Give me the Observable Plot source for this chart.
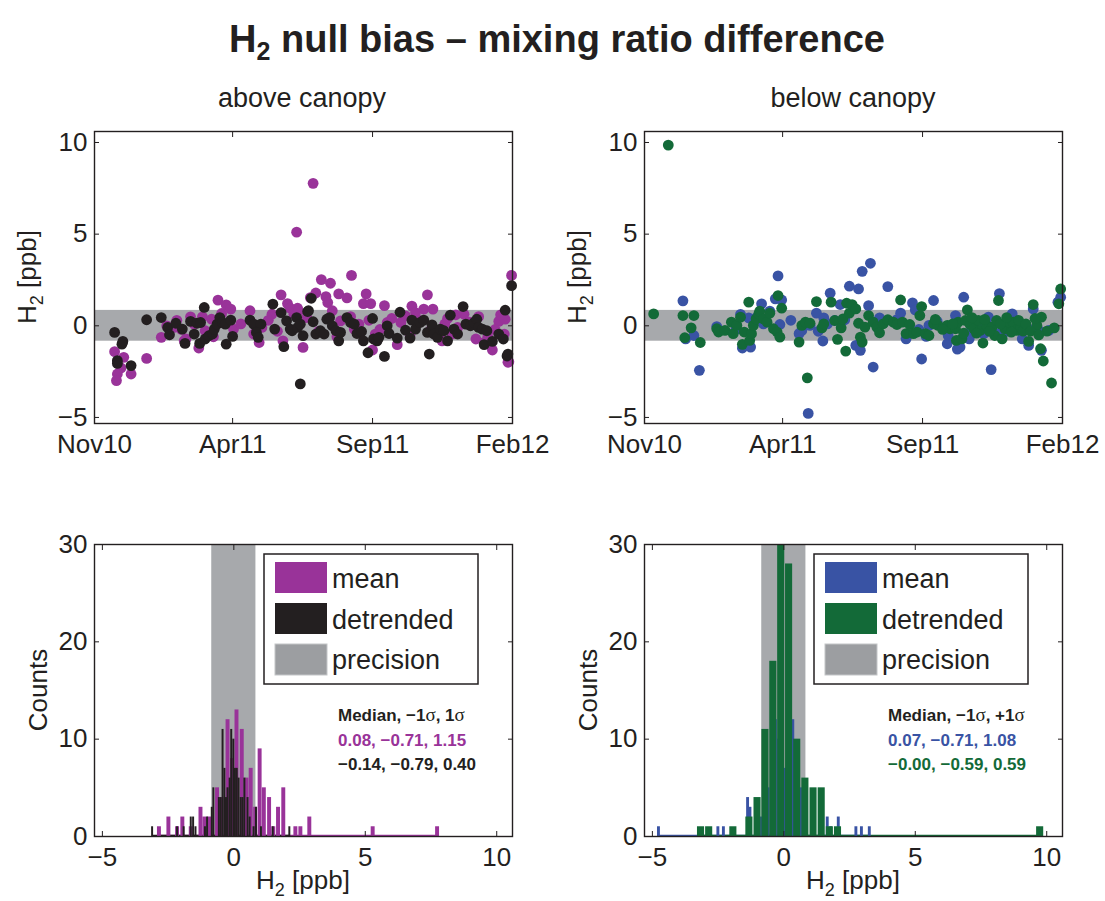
<!DOCTYPE html>
<html><head><meta charset="utf-8">
<script src="https://cdn.jsdelivr.net/npm/d3@7"></script>
<script src="https://cdn.jsdelivr.net/npm/@observablehq/plot@0.6"></script>
<style>
body{margin:0;background:#fff;width:1105px;height:901px;overflow:hidden;position:relative;font-family:"Liberation Sans",Arial,Helvetica,sans-serif;}
.panel{position:absolute;}
#overlay{position:absolute;left:0;top:0;pointer-events:none;}
</style></head><body>
<div id="tl" class="panel" style="left:0px;top:110px"></div>
<div id="tr" class="panel" style="left:550px;top:110px"></div>
<div id="bl" class="panel" style="left:0px;top:523px"></div>
<div id="br" class="panel" style="left:550px;top:523px"></div>
<svg id="overlay" width="1105" height="901" xmlns="http://www.w3.org/2000/svg"></svg>
<script>
// ---------------- data ----------------
// scatter points: [days since 2010-11-01, H2 difference in ppb]
const aboveMean = [[22,-1.41],[32,-1.72],[29,-2.3],[25,-2.63],[24,-2.99],[40,-2.63],[57,-1.78],[73,-0.63],[79,0],[87,-0.09],[98,-0.82],[100,-0.72],[105,0.49],[109,0.09],[114,-1.21],[118,0.49],[121,-0.27],[123,-0.45],[128,0.36],[135,1.4],[139,0.67],[144,1.14],[149,0.91],[152,-0.18],[170,0.82],[174,-0.45],[180,-0.91],[183,-0.09],[194,0.63],[204,1.69],[206,-0.82],[211,1.21],[214,0.96],[218,0.63],[222,0.96],[223,0.82],[228,-1.18],[221,5.11],[239,7.77],[236,1.54],[242,1.79],[232,0.45],[248,2.52],[253,1.59],[255,1.27],[258,2.32],[260,0.82],[267,1.74],[269,0.27],[276,1.52],[281,2.75],[284,-0.18],[289,0.09],[294,1.21],[297,1.74],[302,1.21],[304,-1.32],[307,-0.45],[317,1.1],[320,0.18],[331,-1.03],[335,0.18],[340,0.54],[347,1.07],[351,0.72],[360,0.91],[364,1.69],[370,0.91],[375,-0.36],[380,-0.82],[386,0.4],[391,-0.45],[397,-0.09],[404,0.63],[417,-0.72],[426,-0.91],[435,-1.32],[442,0.24],[449,0.36],[448,-0.45],[452,-1.99],[453,-1.96],[456,2.75],[90,0.3],[95,-0.2],[130,-0.6],[160,0.1],[190,0.3],[200,-0.3],[245,-0.3],[265,-0.6],[280,0.5],[300,0.3],[312,-0.2],[325,0.4],[345,-0.5],[355,0.3],[368,-0.2],[383,0.1],[395,0.6],[410,0.2],[420,0.5],[430,-0.6],[438,-0.2],[444,0.6]];
const aboveDetrended = [[22,-0.36],[31,-0.85],[30,-1.0],[25,-1.9],[25,-2.05],[40,-2.17],[57,0.33],[73,0.45],[80,-0.09],[82,-0.49],[89,0.14],[96,-0.18],[99,-0.96],[105,0.24],[109,-0.45],[112,0.14],[115,-0.96],[120,1.0],[116,0.18],[121,-0.72],[125,-0.54],[129,-0.45],[131,-0.18],[134,0.09],[137,0.45],[140,0.18],[143,0.09],[144,-1.0],[149,0.31],[151,-0.58],[170,0.31],[174,0.09],[182,0.09],[177,-0.36],[179,-0.63],[195,1.18],[197,-0.18],[204,0.72],[207,-1.14],[210,0.27],[214,-0.18],[216,-0.27],[221,0.45],[222,-0.09],[225,0.09],[225,-3.17],[228,-0.54],[233,0.78],[234,0.82],[237,1.5],[239,0.22],[242,-0.45],[247,-0.27],[251,-0.45],[254,0.36],[257,0.45],[260,0],[264,-0.27],[267,-0.82],[269,-0.36],[276,0.45],[280,0.18],[284,0.09],[287,-0.42],[292,-0.31],[294,-0.82],[299,-1.47],[304,0.4],[305,-0.72],[309,-0.82],[311,-0.63],[317,-1.67],[320,0],[322,-0.42],[331,-0.67],[334,0.74],[340,-0.24],[345,-0.67],[347,0.31],[351,-0.18],[356,0.18],[360,0.31],[364,-0.36],[366,-1.54],[369,0.05],[371,-0.45],[375,-0.63],[378,-0.18],[382,-0.27],[386,-0.82],[389,0.58],[393,-0.18],[397,-0.45],[403,1.05],[406,0.09],[411,0],[415,0.18],[418,0.36],[420,-0.09],[424,-0.18],[426,-1.03],[429,-0.27],[435,-0.85],[442,-0.45],[447,-0.72],[449,0.85],[451,-1.65],[452,-1.54],[456,2.19]];
const belowMean = [[100,-0.2],[130,0.1],[160,0.3],[190,-0.3],[200,0.1],[255,-0.1],[262,0.2],[300,-0.2],[338,0.1],[365,0.0],[396,-0.3],[410,0.1],[428,-0.1],[42,1.36],[45,-0.71],[54,-0.53],[60,-2.43],[79,-0.04],[105,0.62],[107,-1.21],[114,0.43],[116,-1.16],[123,0.47],[128,1.2],[137,0.8],[143,1.47],[146,2.72],[150,1.41],[148,0.07],[169,-0.43],[172,-0.25],[179,-4.78],[181,0.02],[188,0.69],[195,-0.83],[196,0.43],[203,1.78],[208,0.29],[214,1.16],[224,2.16],[219,0.33],[231,-1.07],[234,2.01],[236,-1.34],[238,2.97],[245,1.1],[247,3.41],[250,-2.25],[257,0.43],[266,2.14],[276,0.34],[280,0.69],[286,-0.71],[293,1.25],[296,0.87],[303,-1.81],[308,-0.58],[311,0.02],[316,1.38],[320,0.24],[331,-0.98],[332,-0.53],[340,0.56],[342,-1.27],[345,-1.16],[349,1.56],[352,-0.43],[355,-0.71],[360,0.2],[371,-0.43],[376,0.47],[379,-2.39],[385,-0.43],[388,1.76],[393,-0.07],[402,0.65],[407,0.29],[413,-0.71],[420,-1.07],[425,0.92],[431,-0.25],[434,-1.34],[442,-0.25],[452,1.29],[455,1.56]];
const belowDetrended = [[10,0.65],[26,9.86],[42,0.56],[54,0.56],[44,-0.65],[51,-0.11],[61,-0.91],[79,-0.16],[81,-0.34],[88,-0.25],[95,0.2],[97,-0.43],[101,0.02],[105,0.47],[107,-1.01],[109,-0.34],[114,1.29],[115,-0.8],[117,-0.43],[119,0.02],[122,0.38],[125,0.65],[126,0.8],[130,0.38],[134,0.2],[137,0.69],[141,-0.16],[145,-0.34],[146,1.65],[150,0.96],[148,-0.62],[169,-0.89],[172,0.02],[176,0.2],[178,-2.84],[181,0.14],[188,1.32],[194,-0.11],[196,0.11],[204,1.29],[208,0.29],[211,-0.74],[215,-0.11],[217,0.38],[220,-1.38],[221,1.23],[224,0.69],[227,1.16],[231,0.92],[234,0.14],[236,-0.62],[238,-0.89],[241,-0.07],[245,0.56],[250,0.2],[254,-0.07],[257,-0.38],[261,0.11],[266,0.33],[272,0.2],[276,0.07],[280,1.41],[282,0.2],[286,-0.43],[290,0.07],[294,-0.43],[298,-0.34],[301,0.56],[303,1.05],[307,-0.43],[311,-0.53],[316,0.11],[321,0.02],[331,0.02],[334,-0.16],[340,-0.16],[341,-0.8],[347,-0.71],[343,0.2],[353,0.87],[351,0.29],[356,0.07],[360,-0.16],[365,0.29],[367,-0.25],[370,-0.94],[374,0.02],[380,-0.07],[383,-0.53],[387,1.38],[385,0.29],[391,-0.71],[394,-0.16],[398,0.2],[403,0.2],[407,-0.25],[411,-0.07],[414,-0.29],[420,-0.85],[425,1.16],[429,0.02],[433,-1.25],[434,0.47],[436,-1.92],[440,-0.29],[445,-3.12],[448,-0.11],[453,1.2],[455,2.01],[318,0.35],[326,-0.2],[337,0.1],[349,-0.4],[358,0.45],[363,-0.4],[372,0.35],[377,-0.3],[389,0.1],[396,0.45],[401,-0.35],[409,0.3],[417,0.1],[422,-0.3],[427,0.4],[431,-0.5]];

// histogram bins: [bin centre in ppb, count]
const histAboveMean = [[-2.83,1],[-2.47,2],[-2.14,1],[-1.94,2],[-1.62,1],[-1.25,3],[-1.1,2],[-0.92,2],[-0.62,5],[-0.45,4],[-0.22,12],[-0.05,8],[0.12,13],[0.32,11],[0.5,6],[0.66,7],[0.83,3],[1.0,9],[1.16,5],[1.36,4],[1.52,1],[1.7,3],[1.9,5],[2.36,1],[2.55,1],[2.89,2],[5.3,1],[7.75,1]];
const histAboveDetrended = [[-3.09,1],[-2.14,1],[-1.89,1],[-1.62,2],[-1.53,2],[-1.44,1],[-1.08,1],[-1.0,2],[-0.82,3],[-0.76,5],[-0.55,4],[-0.48,4],[-0.41,11],[-0.34,7],[-0.28,4],[-0.22,5],[-0.14,6],[-0.08,11],[0.0,10],[0.06,7],[0.13,7],[0.2,6],[0.28,4],[0.35,4],[0.42,6],[0.54,4],[0.62,2],[0.77,1],[0.86,3],[1.05,1],[1.5,1],[2.13,1]];
const histBelowMean = [[-4.75,1],[-2.49,1],[-2.28,1],[-1.36,4],[-1.27,3],[-0.83,2],[-0.58,5],[-0.45,8],[-0.3,12],[-0.18,10],[-0.05,9],[0.05,7],[0.2,8],[0.36,12],[0.5,7],[0.67,5],[0.85,3],[1.1,2],[1.67,2],[1.8,1],[2.09,2],[2.76,1],[2.97,1],[3.27,1]];
const histBelowDetrended = [[-3.15,1],[-2.84,1],[-1.92,1],[-1.31,2],[-1.0,4],[-0.7,11],[-0.4,18],[-0.1,30],[0.2,28],[0.51,10],[0.82,6],[1.13,5],[1.44,5],[1.75,1],[2.06,1],[9.75,1]];

const precision = 0.84;
const dateTickLabels = ["2010-11-01","2011-04-01","2011-09-01","2012-02-01"];
const valueTicks = [-5, 0, 5, 10];
const countTicks = [0, 10, 20, 30];
const statsAbove = ["Median, −1σ, 1σ", "0.08, −0.71, 1.15", "−0.14, −0.79, 0.40"];
const statsBelow = ["Median, −1σ, +1σ", "0.07, −0.71, 1.08", "−0.00, −0.59, 0.59"];
const legendLabels = ["mean", "detrended", "precision"];

// ---------------- styling ----------------
const FONT = "'Liberation Sans', Arial, Helvetica, sans-serif";
const C = {purple:"#993399", black:"#231f20", blue:"#3953a4", green:"#136a38", band:"#a7a9ac", swatch:"#9c9ea1", ink:"#231f20"};
const t0 = Date.UTC(2010, 10, 1);
const toDate = d => new Date(t0 + d * 864e5);
const dateTicks = dateTickLabels.map(s => new Date(s + "T00:00:00Z"));
const fmtDate = d3.utcFormat("%b%y");
const common = {
  width: 552, height: 370, marginLeft: 94, marginRight: 40, marginTop: 21, marginBottom: 57,
  style: {fontFamily: FONT, fontSize: "26px", color: C.ink, background: "none", overflow: "visible"}
};
function boxAxes(xTicks, xFmt, yTicks, xPad) {
  return [
    Plot.axisX({ticks: xTicks, tickFormat: xFmt, tickSize: -5, tickPadding: xPad, label: null, stroke: C.ink}),
    Plot.axisX({anchor: "top", ticks: xTicks, tickFormat: () => "", tickSize: -5, label: null, stroke: C.ink}),
    Plot.axisY({ticks: yTicks, tickSize: -5, tickPadding: 12, label: null, stroke: C.ink}),
    Plot.axisY({anchor: "right", ticks: yTicks, tickFormat: () => "", tickSize: -5, label: null, stroke: C.ink}),
    Plot.frame({stroke: C.ink, strokeWidth: 1.4})
  ];
}
function scatter(a, b, ca, cb) {
  return Plot.plot({
    ...common,
    x: {type: "utc", domain: [dateTicks[0], dateTicks[3]]},
    y: {domain: [-5.33, 10.6]},
    marks: [
      Plot.rect([precision], {y1: d => -d, y2: d => d, fill: C.band}),
      Plot.dot(a, {x: d => toDate(d[0]), y: d => d[1], r: 5.4, fill: ca, stroke: "none"}),
      Plot.dot(b, {x: d => toDate(d[0]), y: d => d[1], r: 5.4, fill: cb, stroke: "none"}),
      ...boxAxes(dateTicks, fmtDate, valueTicks, 16)
    ]
  });
}
function hist(a, b, ca, cb, wa, wb) {
  const base = (h, c) => Plot.ruleY([0], {x1: d3.min(h, d => d[0]), x2: d3.max(h, d => d[0]), stroke: c, strokeWidth: 1.5, dy: -1});
  const bars = (h, c, w) => Plot.rect(h, {x1: d => d[0] - w / 2, x2: d => d[0] + w / 2, y1: 0, y2: d => d[1], fill: c});
  return Plot.plot({
    ...common,
    x: {domain: [-5.3, 10.6]},
    y: {domain: [0, 30]},
    marks: [
      Plot.rect([precision], {x1: d => -d, x2: d => d, fill: C.band}),
      base(a, ca), base(b, cb),
      bars(a, ca, wa), bars(b, cb, wb),
      ...boxAxes(valueTicks, undefined, countTicks, 16)
    ]
  });
}
document.getElementById("tl").append(scatter(aboveMean, aboveDetrended, C.purple, C.black));
document.getElementById("tr").append(scatter(belowMean, belowDetrended, C.blue, C.green));
document.getElementById("bl").append(hist(histAboveMean, histAboveDetrended, C.purple, C.black, 0.15, 0.075));
document.getElementById("br").append(hist(histBelowMean, histBelowDetrended, C.blue, C.green, 0.11, 0.27));

// ---------------- annotations ----------------
const ov = d3.select("#overlay").attr("font-family", FONT).attr("fill", C.ink);
function h2(sel, subSize, subDy, rest) {
  sel.append("tspan").text("H");
  sel.append("tspan").attr("font-size", subSize).attr("dy", subDy).text("2");
  sel.append("tspan").attr("dy", -subDy).text(rest);
}
h2(ov.append("text").attr("x", 557).attr("y", 52).attr("text-anchor", "middle").attr("font-size", 38).attr("font-weight", "bold"), 25, 8, " null bias – mixing ratio difference");
ov.append("text").attr("x", 302).attr("y", 107).attr("text-anchor", "middle").attr("font-size", 27).text("above canopy");
ov.append("text").attr("x", 853).attr("y", 107).attr("text-anchor", "middle").attr("font-size", 27).text("below canopy");
for (const ox of [0, 550]) {
  h2(ov.append("text").attr("transform", `translate(${36 + ox},277) rotate(-90)`).attr("text-anchor", "middle").attr("font-size", 26), 18, 7, " [ppb]");
  ov.append("text").attr("transform", `translate(${47 + ox},690) rotate(-90)`).attr("text-anchor", "middle").attr("font-size", 26).text("Counts");
  h2(ov.append("text").attr("x", 303 + ox).attr("y", 889).attr("text-anchor", "middle").attr("font-size", 26), 18, 7, " [ppb]");
}
function legend(ox, cMean, cDet) {
  const g = ov.append("g");
  g.append("rect").attr("x", 264 + ox).attr("y", 554).attr("width", 214).attr("height", 130).attr("fill", "#fff").attr("stroke", C.ink).attr("stroke-width", 1.5);
  const cols = [cMean, cDet, C.swatch];
  const ys = [562, 603, 644], bl = [588, 629, 669];
  legendLabels.forEach((lab, i) => {
    g.append("rect").attr("x", 275 + ox).attr("y", ys[i]).attr("width", 52).attr("height", 31).attr("fill", cols[i])
      .attr("stroke", i === 2 ? "#c4c6c8" : "none").attr("stroke-width", 1);
    g.append("text").attr("x", 332 + ox).attr("y", bl[i]).attr("font-size", 27).text(lab);
  });
}
legend(0, C.purple, C.black);
legend(550, C.blue, C.green);
function stats(x, lines, cols) {
  lines.forEach((s, i) => {
    const t = ov.append("text").attr("x", x).attr("y", 721 + i * 24.5).attr("font-size", 17).attr("font-weight", "bold").attr("fill", cols[i]);
    if (i === 0) {
      s.split("σ").forEach((part, j, arr) => {
        t.append("tspan").text(part);
        if (j < arr.length - 1) t.append("tspan").attr("font-family", "'Liberation Serif', 'DejaVu Serif', serif").attr("font-weight", "normal").attr("font-size", 19).text("σ");
      });
    } else t.text(s);
  });
}
stats(338, statsAbove, [C.ink, C.purple, C.black]);
stats(888, statsBelow, [C.ink, C.blue, C.green]);
</script>
</body></html>
